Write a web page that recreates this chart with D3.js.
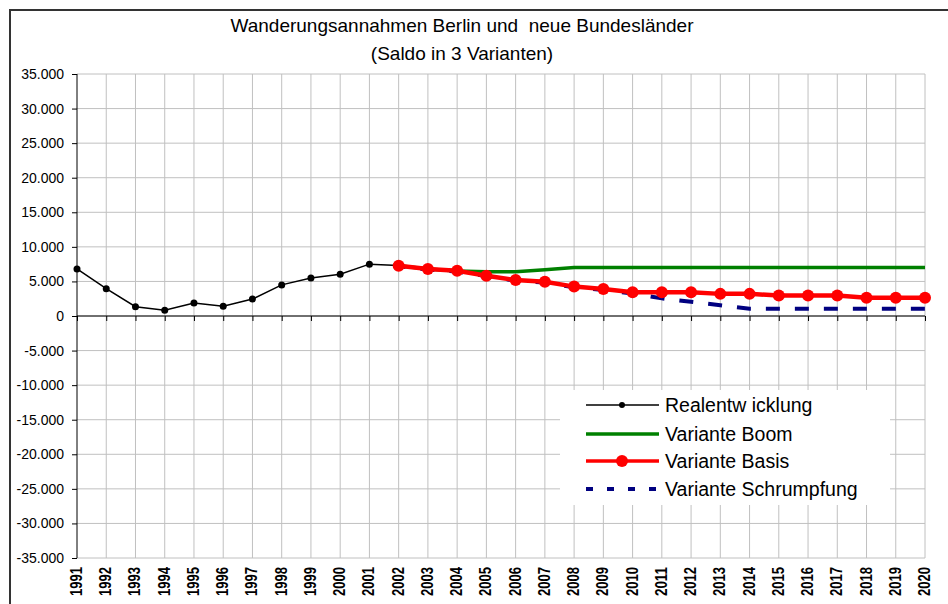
<!DOCTYPE html>
<html lang="de">
<head>
<meta charset="UTF-8">
<title>Wanderungsannahmen Berlin und neue Bundesländer</title>
<script src="https://d3js.org/d3.v7.min.js"></script>
<style>
    body { margin: 0; background: #fff; }
    svg { font-family: "Liberation Sans", Arial, sans-serif; }
    .grid line { stroke: #c0c0c0; stroke-width: 1px; }
</style>
</head>
<body>
<div id="chart"></div>
<script>
// Kategorien (Jahre)
const years = ["1991","1992","1993","1994","1995","1996","1997","1998","1999","2000",
    "2001","2002","2003","2004","2005","2006","2007","2008","2009","2010",
    "2011","2012","2013","2014","2015","2016","2017","2018","2019","2020"];

// Realentwicklung 1991-2002
const real = [6800, 3950, 1350, 820, 1880, 1400, 2450, 4500, 5500, 6050,
    7500, 7300, null, null, null, null, null, null, null, null,
    null, null, null, null, null, null, null, null, null, null];

// Variante Boom
const boom = [null, null, null, null, null, null, null, null, null, null,
    null, 7280, 6800, 6500, 6400, 6400, 6700, 7000, 7000, 7000,
    7000, 7000, 7000, 7000, 7000, 7000, 7000, 7000, 7000, 7000];

// Variante Basis
const basis = [null, null, null, null, null, null, null, null, null, null,
    null, 7280, 6800, 6550, 5830, 5200, 4950, 4250, 3900, 3450,
    3450, 3450, 3200, 3200, 2950, 2950, 2950, 2650, 2650, 2650];

// Variante Schrumpfung
const schrumpfung = [null, null, null, null, null, null, null, null, null, null,
    null, 7200, 6700, 6450, 5750, 5100, 4850, 4150, 3750, 3250,
    2550, 2050, 1550, 1050, 1050, 1050, 1050, 1050, 1050, 1050];

const yTicks = [35000, 30000, 25000, 20000, 15000, 10000, 5000, 0,
    -5000, -10000, -15000, -20000, -25000, -30000, -35000];

const seriesNames = ["Realentw icklung", "Variante Boom", "Variante Basis", "Variante Schrumpfung"];

const width = 948, height = 604;
const svg = d3.select("#chart").append("svg")
    .attr("width", width)
    .attr("height", height);

// Rahmen
svg.append("path")
    .attr("d", "M10,604 V10 H948")
    .attr("fill", "none")
    .attr("stroke", "#333")
    .attr("stroke-width", 2);

// Titel
svg.append("text")
    .attr("x", 462).attr("y", 32)
    .attr("text-anchor", "middle")
    .style("font-size", "19px")
    .style("white-space", "pre")
    .text("Wanderungsannahmen Berlin und  neue Bundesländer");
svg.append("text")
    .attr("x", 462).attr("y", 60)
    .attr("text-anchor", "middle")
    .style("font-size", "19px")
    .text("(Saldo in 3 Varianten)");

const x = d3.scalePoint().domain(years).range([77, 925]);
const y = d3.scaleLinear().domain([-35000, 35000]).range([558, 74]);

const de = d3.formatLocale({ decimal: ",", thousands: ".", grouping: [3], currency: ["", " €"], minus: "-" });
const fmt = de.format(",.0f");

// Gitternetz
const grid = svg.append("g").attr("class", "grid");
grid.selectAll(".h").data(yTicks).enter().append("line")
    .attr("x1", 77).attr("x2", 925)
    .attr("y1", d => y(d)).attr("y2", d => y(d));
grid.selectAll(".v").data(years.slice(1)).enter().append("line")
    .attr("x1", d => x(d)).attr("x2", d => x(d))
    .attr("y1", 74).attr("y2", 558);

// Y-Achse
const yAxis = svg.append("g")
    .attr("transform", "translate(77,0)")
    .call(d3.axisLeft(y).tickValues(yTicks).tickFormat(fmt).tickSize(5).tickPadding(8));
yAxis.select(".domain").attr("stroke", "#000").attr("d", "M0,74V558");
yAxis.selectAll("text").style("font-size", "14px").attr("fill", "#000");

// X-Achse an der Nulllinie
const xAxis = svg.append("g")
    .attr("transform", `translate(0,${y(0)})`)
    .call(d3.axisBottom(x).tickSize(5).tickFormat(""));
xAxis.select(".domain").attr("stroke", "#000").attr("d", "M77,0H925");

// Jahreszahlen unten
svg.append("g").selectAll("text").data(years).enter().append("text")
    .attr("transform", d => `translate(${x(d) + 5},567) rotate(-90)`)
    .attr("text-anchor", "end")
    .attr("textLength", 29)
    .attr("lengthAdjust", "spacingAndGlyphs")
    .style("font-size", "16px")
    .style("font-weight", "bold")
    .text(d => d);

const line = vals => d3.line()
    .defined(d => d != null)
    .x((d, i) => x(years[i]))
    .y(d => y(d))(vals);

// Boom
svg.append("path").attr("d", line(boom))
    .attr("fill", "none").attr("stroke", "#008000").attr("stroke-width", 3.5);

// Schrumpfung
svg.append("path").attr("d", line(schrumpfung))
    .attr("fill", "none").attr("stroke", "#000080").attr("stroke-width", 4)
    .attr("stroke-dasharray", "14,15")
    .attr("stroke-dashoffset", 7);

// Realentwicklung
svg.append("path").attr("d", line(real))
    .attr("fill", "none").attr("stroke", "#000").attr("stroke-width", 1.5);
svg.append("g").selectAll("circle")
    .data(real.map((v, i) => [years[i], v]).filter(d => d[1] != null))
    .enter().append("circle")
    .attr("cx", d => x(d[0])).attr("cy", d => y(d[1])).attr("r", 3.5)
    .attr("fill", "#000");

// Basis
svg.append("path").attr("d", line(basis))
    .attr("fill", "none").attr("stroke", "#ff0000").attr("stroke-width", 4.5);
svg.append("g").selectAll("circle")
    .data(basis.map((v, i) => [years[i], v]).filter(d => d[1] != null))
    .enter().append("circle")
    .attr("cx", d => x(d[0])).attr("cy", d => y(d[1])).attr("r", 6)
    .attr("fill", "#ff0000");

// Legende
const legend = svg.append("g");
legend.append("rect")
    .attr("x", 560).attr("y", 390).attr("width", 330).attr("height", 115)
    .attr("fill", "#fff");
const rows = [405, 434, 461, 489];
const styles = [
    { stroke: "#000", w: 1.5, dash: null, r: 3, fill: "#000" },
    { stroke: "#008000", w: 3.5, dash: null, r: 0 },
    { stroke: "#ff0000", w: 3.5, dash: null, r: 6, fill: "#ff0000" },
    { stroke: "#000080", w: 4, dash: "7,14", r: 0 }
];
seriesNames.forEach((name, i) => {
    const s = styles[i];
    legend.append("line")
        .attr("x1", 586).attr("x2", 659)
        .attr("y1", rows[i]).attr("y2", rows[i])
        .attr("stroke", s.stroke).attr("stroke-width", s.w)
        .attr("stroke-dasharray", s.dash);
    if (s.r) {
        legend.append("circle")
            .attr("cx", 622).attr("cy", rows[i]).attr("r", s.r)
            .attr("fill", s.fill);
    }
    legend.append("text")
        .attr("x", 665).attr("y", rows[i])
        .attr("dy", "0.35em")
        .style("font-size", "19.5px")
        .text(name);
});
</script>
</body>
</html>
